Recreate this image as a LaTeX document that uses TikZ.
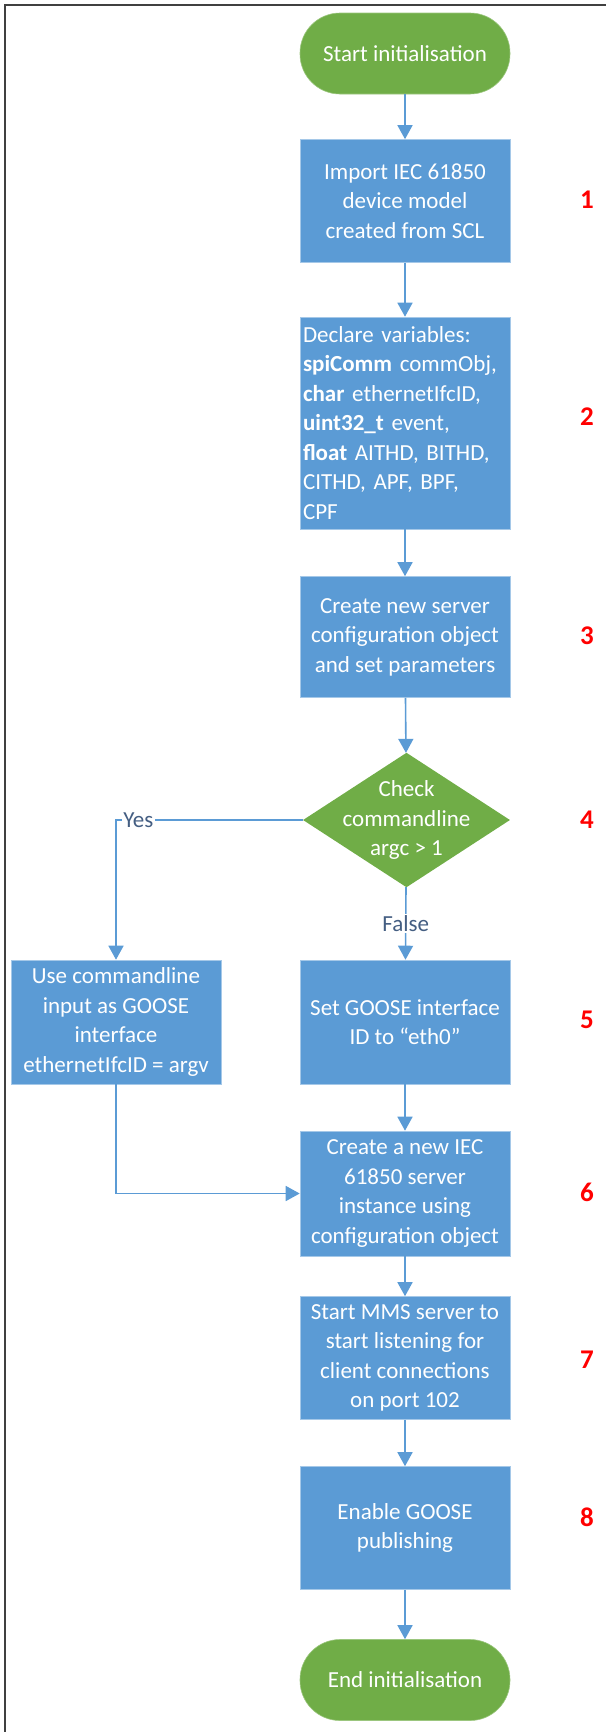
\documentclass[tikz,border=0pt]{standalone}
\usepackage{fontspec}
\setmainfont{Carlito}
\usetikzlibrary{arrows.meta}
\usetikzlibrary{shapes.geometric}

\definecolor{procblue}{RGB}{91,155,213}
\definecolor{termgreen}{RGB}{112,173,71}
\definecolor{answergray}{RGB}{68,94,130}

\tikzset{
  proc/.style={rectangle, fill=procblue, draw=procblue!55!white, line width=0.6pt,
    text=white, minimum width=210pt, minimum height=123pt, align=center,
    inner sep=3pt, font=\fontsize{23}{29.5}\selectfont},
  term/.style={rectangle, rounded corners=40pt, fill=termgreen, draw=termgreen!70!white,
    line width=0.6pt, text=white, minimum width=210pt, minimum height=81pt,
    font=\fontsize{23}{29.5}\selectfont},
  decision/.style={diamond, fill=termgreen, text=white, minimum width=207pt,
    minimum height=133pt, inner sep=-18pt, align=center,
    font=\fontsize{23}{29.5}\selectfont},
  flow/.style={draw=procblue, line width=1.6pt,
    -{Triangle[width=15pt,length=14pt]}},
  stepnum/.style={text=red, font=\fontsize{27}{30}\selectfont\bfseries},
  answer/.style={fill=white, text=answergray, inner sep=1.5pt,
    font=\fontsize{23}{26}\selectfont}
}

\begin{document}
\begin{tikzpicture}[x=1pt, y=-1pt]
  \useasboundingbox (0,0) rectangle (606,1732);
  \draw[line width=1.6pt, black!75] (5,1732) -- (5,5) -- (606,5);

  \node[term] (start) at (405,53.5) {Start initialisation};
  \node[proc] (import) at (405,201) {Import IEC 61850\\device model\\created from SCL};
  \node[proc, minimum height=212pt, text width=204pt, align=left, inner xsep=3pt, inner ysep=1pt]
    (declare) at (405,423)
    {Declare variables:\\\textbf{spiComm} commObj,\\\textbf{char} ethernetIfcID,\\
     \textbf{uint32\_t} event,\\\textbf{float} AITHD, BITHD,\\CITHD, APF, BPF,\\CPF};
  \node[proc, minimum height=121pt] (config) at (405,637)
    {Create new server\\configuration object\\and set parameters};
  \node[decision] (check) at (406.5,820) {Check\\commandline\\argc > 1};
  \node[proc, minimum height=124pt] (usearg) at (116,1022)
    {Use commandline\\input as GOOSE\\interface\\ethernetIfcID = argv};
  \node[proc, minimum height=124pt] (seteth) at (405,1022)
    {Set GOOSE interface\\ID to “eth0”};
  \node[proc, minimum height=125pt] (server) at (405,1193.5)
    {Create a new IEC\\61850 server\\instance using\\configuration object};
  \node[proc] (mms) at (405,1358)
    {Start MMS server to\\start listening for\\client connections\\on port 102};
  \node[proc] (goose) at (405,1528) {Enable GOOSE\\publishing};
  \node[term] (stop) at (405,1680) {End initialisation};

  \node[stepnum] (n1) at (587,200) {1};
  \node[stepnum] (n2) at (587,417) {2};
  \node[stepnum] (n3) at (587,636) {3};
  \node[stepnum] (n4) at (587,820) {4};
  \node[stepnum] (n5) at (587,1020) {5};
  \node[stepnum] (n6) at (587,1192) {6};
  \node[stepnum] (n7) at (587,1360) {7};
  \node[stepnum] (n8) at (587,1517) {8};

  \draw[flow] (start) -- (import);
  \draw[flow] (import) -- (declare);
  \draw[flow] (declare) -- (config);
  \draw[flow] (config) -- (check);
  \draw[flow] (check) -- node[answer] {False} (seteth);
  \draw[flow] (check.west) -| node[answer, pos=0.44] {Yes} (usearg.north);
  \draw[flow] (seteth) -- (server);
  \draw[flow] (usearg.south) |- (server.west);
  \draw[flow] (server) -- (mms);
  \draw[flow] (mms) -- (goose);
  \draw[flow] (goose) -- (stop);
\end{tikzpicture}
\end{document}
